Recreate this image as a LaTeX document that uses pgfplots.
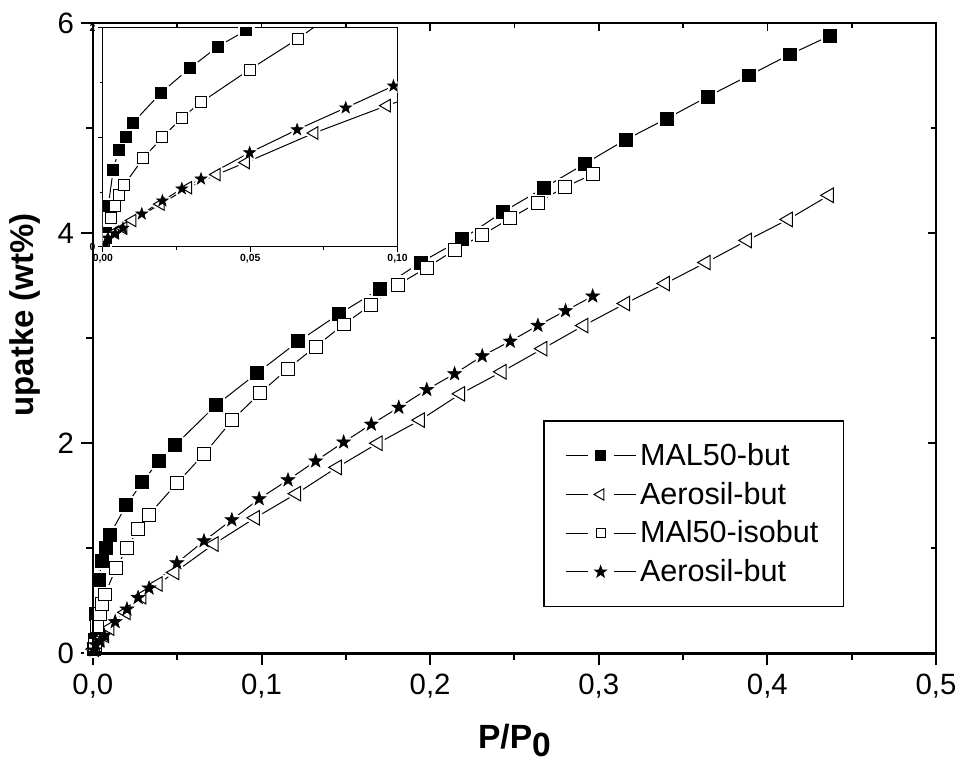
\documentclass[border=0pt]{standalone}
\usepackage{pgfplots}
\pgfplotsset{compat=1.18}
\usepackage{pgfplotstable}
\usepackage{fontspec}
\setmainfont{Liberation Sans}

\pgfdeclareplotmark{fstar}{%
  \pgfpathmoveto{\pgfpointpolar{90}{\pgfplotmarksize}}%
  \pgfpathlineto{\pgfpointpolar{126}{0.4*\pgfplotmarksize}}%
  \pgfpathlineto{\pgfpointpolar{162}{\pgfplotmarksize}}%
  \pgfpathlineto{\pgfpointpolar{198}{0.4*\pgfplotmarksize}}%
  \pgfpathlineto{\pgfpointpolar{234}{\pgfplotmarksize}}%
  \pgfpathlineto{\pgfpointpolar{270}{0.4*\pgfplotmarksize}}%
  \pgfpathlineto{\pgfpointpolar{306}{\pgfplotmarksize}}%
  \pgfpathlineto{\pgfpointpolar{342}{0.4*\pgfplotmarksize}}%
  \pgfpathlineto{\pgfpointpolar{18}{\pgfplotmarksize}}%
  \pgfpathlineto{\pgfpointpolar{54}{0.4*\pgfplotmarksize}}%
  \pgfpathclose
  \pgfusepathqfillstroke
}

% MAL50-but (filled squares)
\pgfplotstableread{
x y
0.0004 0.04
0.0010 0.13
0.0018 0.37
0.0035 0.70
0.0053 0.88
0.0077 1.00
0.0101 1.13
0.0198 1.41
0.0294 1.63
0.0390 1.83
0.0487 1.98
0.0729 2.36
0.0976 2.67
0.1219 2.97
0.1460 3.23
0.1704 3.47
0.1943 3.72
0.2187 3.94
0.2430 4.20
0.2674 4.43
0.2917 4.66
0.3160 4.89
0.3403 5.09
0.3647 5.30
0.3890 5.50
0.4133 5.70
0.4373 5.88
}\dMALbut

% Aerosil-but (open left triangles)
\pgfplotstableread{
x y
0.0008 0.04
0.0017 0.09
0.0040 0.13
0.0069 0.17
0.0100 0.24
0.0196 0.39
0.0289 0.54
0.0386 0.66
0.0485 0.77
0.0717 1.04
0.0963 1.29
0.1207 1.52
0.1448 1.77
0.1690 2.00
0.1941 2.22
0.2180 2.47
0.2425 2.68
0.2668 2.90
0.2911 3.12
0.3158 3.33
0.3394 3.52
0.3636 3.72
0.3880 3.93
0.4123 4.13
0.4366 4.36
}\dAerobut

% MAl50-isobut (open squares)
\pgfplotstableread{
x y
0.0010 0.08
0.0026 0.26
0.0041 0.37
0.0055 0.47
0.0071 0.56
0.0137 0.81
0.0202 1.00
0.0268 1.18
0.0333 1.32
0.0498 1.62
0.0661 1.90
0.0827 2.22
0.0993 2.48
0.1157 2.71
0.1321 2.92
0.1487 3.13
0.1651 3.32
0.1810 3.51
0.1979 3.67
0.2145 3.84
0.2307 3.98
0.2473 4.14
0.2637 4.29
0.2800 4.44
0.2966 4.56
}\dMALiso

% Aerosil-but (stars)
\pgfplotstableread{
x y
0.0008 0.03
0.0017 0.08
0.0042 0.12
0.0068 0.17
0.0132 0.30
0.0202 0.42
0.0268 0.53
0.0333 0.62
0.0498 0.86
0.0659 1.07
0.0824 1.27
0.0986 1.47
0.1157 1.65
0.1321 1.83
0.1487 2.01
0.1651 2.18
0.1814 2.34
0.1980 2.51
0.2145 2.66
0.2309 2.83
0.2475 2.97
0.2639 3.12
0.2803 3.26
0.2964 3.40
}\dAerostar

% #1 filled square size, #2 triangle size, #3 star size, #4 open square size
\newcommand{\allplots}[4]{%
  \addplot[black, line width=0.5pt, forget plot] table {\dMALbut};
  \addplot[black, line width=0.5pt, forget plot] table {\dAerobut};
  \addplot[black, line width=0.5pt, forget plot] table {\dMALiso};
  \addplot[black, line width=0.5pt, forget plot] table {\dAerostar};
  \addplot[only marks, mark=square*, mark size=#1, mark options={draw=white, fill=white, line width=2.6pt, line join=round}, forget plot] table {\dMALbut};
  \addplot[only marks, mark=triangle*, mark size=#2, mark options={rotate=90, draw=white, fill=white, line width=2.6pt, line join=round}, forget plot] table {\dAerobut};
  \addplot[only marks, mark=square*, mark size=#4, mark options={draw=white, fill=white, line width=2.6pt, line join=round}, forget plot] table {\dMALiso};
  \addplot[only marks, mark=fstar, mark size=#3, mark options={draw=white, fill=white, line width=2.6pt, line join=round}, forget plot] table {\dAerostar};
  \addplot[only marks, mark=square*, mark size=#1, mark options={draw=black, fill=black, line width=0.5pt}, forget plot] table {\dMALbut};
  \addplot[only marks, mark=triangle*, mark size=#2, mark options={rotate=90, draw=black, fill=white, line width=0.5pt}, forget plot] table {\dAerobut};
  \addplot[only marks, mark=square*, mark size=#4, mark options={draw=black, fill=white, line width=0.5pt}, forget plot] table {\dMALiso};
  \addplot[only marks, mark=fstar, mark size=#3, mark options={draw=black, fill=black, line width=0.3pt}, forget plot] table {\dAerostar};
}

\begin{document}
\begin{tikzpicture}
\path[use as bounding box] (-46.5pt,-54pt) rectangle (434.5pt,327pt);

\begin{axis}[
  at={(0pt,0pt)}, anchor=south west,
  width=422pt, height=315.5pt, scale only axis,
  xmin=0, xmax=0.5, ymin=0, ymax=6,
  xtick={0,0.1,0.2,0.3,0.4,0.5},
  xticklabels={{0,0},{0,1},{0,2},{0,3},{0,4},{0,5}},
  minor xtick={0.05,0.15,0.25,0.35,0.45},
  ytick={0,2,4,6}, yticklabels={0,2,4,6},
  minor ytick={1,3,5},
  xtick pos=left, ytick pos=left, tick align=outside,
  major tick length=6pt, minor tick length=3.5pt,
  axis line style={line width=1.2pt},
  every tick/.style={black, line width=1pt},
  tick label style={font=\fontsize{14.7}{17}\selectfont},
  xticklabel style={yshift=-1pt},
  xlabel={P/P\raisebox{-4pt}{0}},
  xlabel style={font=\fontsize{16.8}{20}\selectfont\bfseries, inner sep=0pt, at={(axis description cs:0.5,-0.151)}, anchor=base},
  ylabel={upatke (wt\%)},
  ylabel style={font=\fontsize{16.5}{20}\selectfont\bfseries, at={(axis description cs:-0.0806,0.537)}, anchor=center},
  legend style={at={(axis description cs:0.891,0.0729)}, anchor=south east,
    draw=black, line width=0.7pt, fill=white,
    font=\fontsize{15.3}{18}\selectfont,
    inner xsep=10.5pt, inner ysep=9.6pt, row sep=3.8pt,
    nodes={inner xsep=2pt, inner ysep=1.5pt}},
  legend cell align=left,
  legend image code/.code={%
    \draw[#1, mark=none] (0pt,0pt) -- (11pt,0pt);
    \draw[#1, mark=none] (24pt,0pt) -- (35pt,0pt);
    \draw[#1, only marks] plot coordinates {(17.5pt,0pt)};
  },
]
\allplots{3.25pt}{4.2pt}{3.6pt}{3.25pt}
\addlegendimage{black, line width=0.5pt, mark=square*, mark size=2.6pt, mark options={fill=black}}
\addlegendentry{MAL50-but}
\addlegendimage{black, line width=0.5pt, mark=triangle*, mark size=3.3pt, mark options={fill=white, rotate=90}}
\addlegendentry{Aerosil-but}
\addlegendimage{black, line width=0.5pt, mark=square*, mark size=2.2pt, mark options={fill=white}}
\addlegendentry{MAl50-isobut}
\addlegendimage{black, line width=0.5pt, mark=fstar, mark size=3pt, mark options={fill=black}}
\addlegendentry{Aerosil-but}
\end{axis}

% inward ticks on top and right
\begin{axis}[
  at={(0pt,0pt)}, anchor=south west,
  width=422pt, height=315.5pt, scale only axis,
  xmin=0, xmax=0.5, ymin=0, ymax=6,
  xtick={0,0.1,0.2,0.3,0.4,0.5}, minor xtick={0.05,0.15,0.25,0.35,0.45},
  ytick={0,2,4,6}, minor ytick={1,3,5},
  xticklabels={}, yticklabels={},
  xtick pos=right, ytick pos=right, tick align=inside,
  major tick length=4pt, minor tick length=2.5pt,
  axis line style={line width=1.2pt},
  every tick/.style={black, line width=0.8pt},
]
\end{axis}

% inset
\begin{axis}[
  at={(5pt,203.5pt)}, anchor=south west,
  width=147.5pt, height=109.5pt, scale only axis,
  xmin=0, xmax=0.1, ymin=0, ymax=2,
  axis background/.style={fill=white},
  xtick={0,0.05,0.1}, xticklabels={{0,00},{0,05},{0,10}},
  minor xtick={0.025,0.075},
  ytick={0,1,2}, yticklabels={0,{},2},
  minor ytick={0.5,1.5},
  xtick pos=left, ytick pos=left, tick align=outside,
  major tick length=2.5pt, minor tick length=1.5pt,
  axis line style={line width=0.5pt},
  every tick/.style={black, line width=0.5pt},
  tick label style={font=\fontsize{5.2}{6}\selectfont\bfseries, inner sep=1pt},
  clip marker paths=true,
]
\allplots{2.75pt}{3.6pt}{3.1pt}{2.75pt}
\end{axis}
\end{tikzpicture}
\end{document}
